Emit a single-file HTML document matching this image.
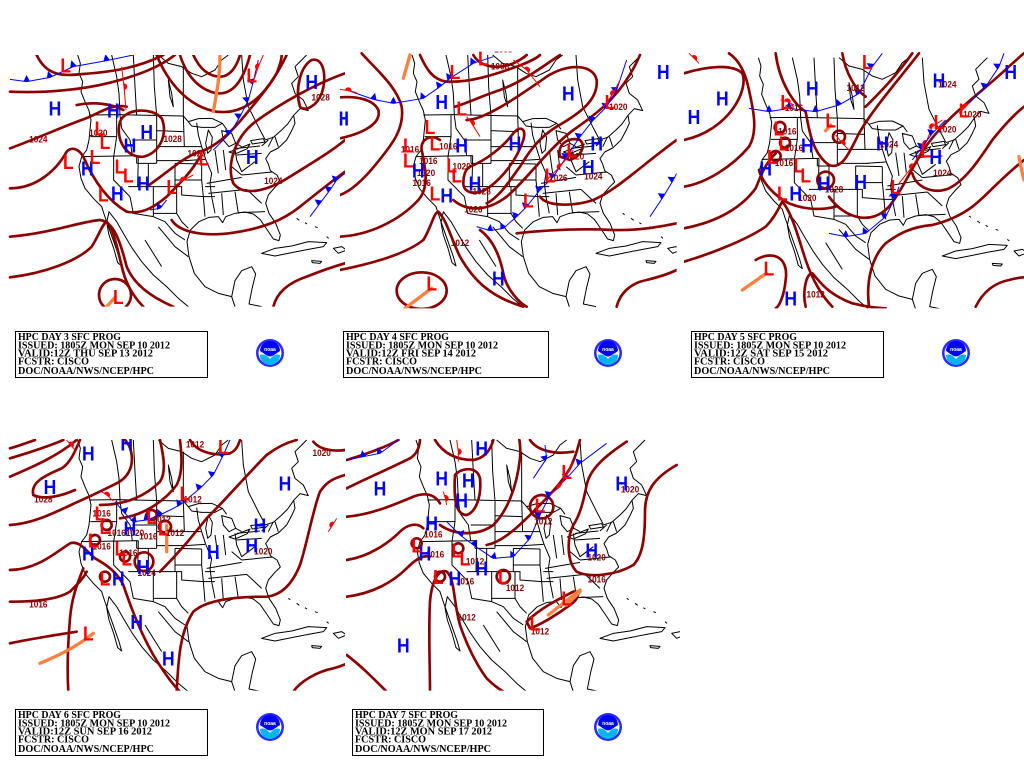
<!DOCTYPE html>
<html><head><meta charset="utf-8">
<style>
html,body{margin:0;padding:0;background:#fff;}
svg{display:block;}
.iso{fill:none;stroke:#8b0000;stroke-width:8;stroke-linejoin:round;stroke-linecap:round;}
.base{fill:none;stroke:#000;stroke-width:3;stroke-linejoin:round;}
.cf{fill:none;stroke:#0000ff;stroke-width:3;marker-mid:url(#tri);}
.wf{fill:none;stroke:#ff0000;stroke-width:3;marker-mid:url(#semi);}
.tr{fill:none;stroke:#ff8040;stroke-width:10;stroke-linecap:round;}
.H{font-family:"Liberation Sans",sans-serif;font-weight:bold;font-size:62px;fill:#0000ff;text-anchor:middle;}
.L{font-family:"Liberation Sans",sans-serif;font-weight:bold;font-size:62px;fill:#ff0000;text-anchor:middle;}
.lb{font-family:"Liberation Sans",sans-serif;font-weight:bold;font-size:27px;fill:#8b0000;text-anchor:middle;}
.bx{font-family:"Liberation Serif",serif;font-weight:bold;font-size:10.5px;fill:#000;}
</style></head>
<body>
<svg width="1024" height="768" viewBox="0 0 1024 768" xmlns="http://www.w3.org/2000/svg">
<defs>
<marker id="tri" viewBox="0 0 10 10" refX="5" refY="10" markerWidth="20" markerHeight="20" markerUnits="userSpaceOnUse" orient="auto"><path d="M0,10 L5,0 L10,10Z" fill="#0000ff"/></marker>
<marker id="semi" viewBox="0 0 10 10" refX="5" refY="10" markerWidth="20" markerHeight="20" markerUnits="userSpaceOnUse" orient="auto"><path d="M0,10 A5,5 0 0 1 10,10Z" fill="#ff0000"/></marker>
<clipPath id="c1"><rect x="25" y="45" width="1010" height="755"/></clipPath>
<clipPath id="c2"><rect x="0" y="35" width="1010" height="770"/></clipPath>
<clipPath id="c3"><rect x="15" y="35" width="1020" height="770"/></clipPath>
<clipPath id="c4"><rect x="25" y="42" width="1010" height="755"/></clipPath>
<clipPath id="c5"><rect x="18" y="42" width="1002" height="755"/></clipPath>
<g id="base">
<path class="base" d="M228,45 L236,70 L232,100 L243,125 L238,155 L250,185 L262,212 L268,240 L265,270 L262,300 L255,330 L240,350 L232,380 L238,415 L250,445 L275,475 L300,500 L308,525 L322,565 L338,610 L352,650 L360,678 L348,668 L336,625 L322,585 L315,548 L322,515 L345,545 L368,585 L392,625 L420,665 L455,705 L495,740 L530,775 L560,800"/>
<path class="base" d="M700,800 L690,770 L650,760 L610,740 L578,700 L562,650 L556,605 L566,570 L592,545 L622,532 L650,530 L663,548 L672,530 L700,520 L730,516 L755,522 L775,538 L795,567 L815,597 L832,602 L836,585 L822,550 L802,520 L792,490 L800,465 L820,442 L836,426 L826,405 L806,392 L800,372 L792,356 L806,336 L830,324 L855,300 L870,272 L880,250 L876,226 L895,206 L920,212 L905,180 L880,160 L870,130 L890,110 L880,80 L900,60 L915,45"/>
<path class="base" d="M690,770 L700,722 L720,692 L750,680 L762,702 L752,742 L742,792 L780,800"/>
<path class="base" d="M780,640 L820,625 L870,618 L920,605 L975,608 L965,620 L920,628 L870,638 L820,648 Z M930,662 L960,664 L955,670 L932,668 Z M995,625 L1020,620 L1035,630 L1010,640 Z M860,520 l6,4 M885,535 l8,6 M910,548 l6,4 M940,560 l8,3 M975,590 l6,5"/>
<path class="base" d="M560,245 L590,236 L630,235 L662,250 L640,262 L600,262 L570,258 Z M620,270 L632,292 L628,330 L618,340 L612,310 Z M660,272 L690,280 L702,310 L682,320 L665,300 Z M682,336 L720,322 L745,312 L737,326 L700,342 Z M747,302 L785,296 L790,306 L752,312 Z M500,120 L510,160 L515,200 L505,170 Z"/>
<path class="base" d="M470,45 L500,70 L540,80 L570,100 L600,110 L640,90 L660,60 L680,45"/>
<path class="base" d="M262,225 L350,224 L450,226 L545,228 L560,245 M662,250 L675,268 M702,310 L720,320 M790,300 L815,292 L840,270 L858,252 L876,226 M330,45 L345,110 L352,160 L355,225 M395,45 L400,140 L405,226 M455,45 L458,140 L465,228 M545,80 L545,130 L545,228 M720,45 L725,120 L740,200 L770,260 L790,298"/>
<path class="base" d="M266,290 L345,290 M345,226 L345,290 L336,350 M240,350 L410,347 M355,226 L360,265 L385,300 L392,347 M392,300 L465,300 M465,228 L465,370 M405,370 L465,370 M405,347 L405,370 M465,272 L545,275 M465,320 L548,320 M545,228 L548,320 M440,370 L440,440 L520,440 L520,370 M465,362 L560,362 M520,370 L600,372 M520,420 L600,420 M600,372 L600,420 M520,440 L540,440 L540,465 L605,470 L600,420 M336,350 L336,420 L385,470 M410,347 L408,440 M380,440 L440,440 M385,470 L395,520 L455,530 L455,440 M455,520 L525,520 L525,440 M525,520 L540,545 L560,565 M455,530 L490,545 L520,580 L550,600 M548,320 L600,320 M585,248 L590,285 L600,320 M550,362 L610,358 M600,320 L612,358 L630,400 L625,430 L630,470 L640,520 M640,330 L650,400 M665,330 L672,390 M700,325 L705,360 M705,345 L780,340 M705,325 L775,318 M615,430 L720,412 M620,460 L735,448 M720,405 L812,396 M690,380 L720,405 M705,360 L720,395 L760,365 M660,460 L665,525 M700,455 L710,520 M735,448 L780,490 M710,518 L790,515 M600,470 L640,470 M605,470 L610,530 M780,318 L800,300 M800,320 L815,290 M820,290 L830,320 M470,560 L520,620 L560,650 M430,600 L480,680 M610,440 L640,440"/>
</g>
</defs>
<rect width="1024" height="768" fill="#fff"/>

<!-- PANEL 1 -->
<g transform="translate(0,40) scale(0.33333)">
<g clip-path="url(#c1)">
<use href="#base" transform="translate(5,0)"/>
<path class="iso" d="M110,45 C140,110 190,108 250,102 C330,96 410,85 490,45"/>
<path class="iso" d="M30,155 C140,160 250,148 330,128 C420,105 480,80 525,45"/>
<path class="iso" d="M30,325 C120,292 200,255 250,238 C290,225 330,190 380,200"/>
<path class="iso" d="M360,245 C375,205 455,200 485,235 C505,280 480,340 430,350 C380,355 345,300 360,245Z"/>
<path class="iso" d="M30,445 C110,445 170,390 200,335 C215,320 235,325 250,350 C280,420 320,480 380,515 C430,525 470,495 500,470 C540,430 575,395 600,350"/>
<path class="iso" d="M30,590 C150,580 240,545 300,540 C340,545 360,600 380,680 C400,730 450,770 520,800"/>
<path class="iso" d="M30,712 C130,700 230,665 275,620 C295,590 305,555 320,545 C340,565 352,625 368,690 C382,745 410,780 430,800"/>
<circle class="iso" cx="345" cy="765" r="48"/>
<path class="iso" d="M1035,100 C950,130 840,190 760,250 C700,300 680,380 700,430 C730,470 800,455 870,410 C950,360 1000,330 1035,300"/>
<path class="iso" d="M515,540 C540,580 620,590 700,578 C790,565 850,540 900,500 C950,460 1000,420 1035,395"/>
<path class="iso" d="M440,440 C500,400 550,350 600,335 C650,320 700,270 740,220 C790,160 830,110 860,45"/>
<path class="iso" d="M540,45 C560,110 600,150 650,160 C700,165 730,120 750,45"/>
<path class="iso" d="M580,45 C600,90 630,110 660,110 C690,110 710,80 720,45"/>
<path class="iso" d="M470,45 C500,120 560,200 650,215 C730,225 790,170 830,100 C840,75 845,55 845,45"/>
<path class="iso" d="M900,200 C885,150 900,80 935,60 C975,50 980,120 965,160 C950,200 915,215 900,200Z"/>
<path class="iso" d="M820,800 C830,760 860,730 920,710 C970,690 1000,680 1035,670"/>
<path class="iso" d="M230,195 C280,185 330,190 370,210"/>
<polyline class="cf" points="30,118 80,125 150,112 220,80 320,62 400,45"/>
<polyline class="wf" points="365,80 372,140 378,210"/>
<polyline class="cf" points="640,330 690,280 720,230 745,180 760,125 775,60"/>
<polyline class="wf" points="760,125 775,80 790,45"/>
<polyline class="cf" points="930,530 960,490 990,450 1010,420 1035,400"/>
<polyline class="cf" points="450,510 480,505 500,480"/>
<polyline class="wf" points="520,440 550,420 580,405"/>
<path class="tr" d="M640,215 C648,170 660,110 660,45"/>
<path class="tr" d="M320,800 L345,772"/>
<text class="lb" x="115" y="307" textLength="55" lengthAdjust="spacingAndGlyphs">1024</text>
<text class="lb" x="295" y="288" textLength="55" lengthAdjust="spacingAndGlyphs">1020</text>
<text class="lb" x="518" y="306" textLength="55" lengthAdjust="spacingAndGlyphs">1028</text>
<text class="lb" x="590" y="350" textLength="55" lengthAdjust="spacingAndGlyphs">1020</text>
<text class="lb" x="820" y="432" textLength="55" lengthAdjust="spacingAndGlyphs">1024</text>
<text class="lb" x="962" y="182" textLength="55" lengthAdjust="spacingAndGlyphs">1028</text>
<text class="H" x="165" y="227" textLength="38" lengthAdjust="spacingAndGlyphs">H</text>
<text class="H" x="340" y="232" textLength="38" lengthAdjust="spacingAndGlyphs">H</text>
<text class="H" x="440" y="297" textLength="38" lengthAdjust="spacingAndGlyphs">H</text>
<text class="H" x="390" y="337" textLength="38" lengthAdjust="spacingAndGlyphs">H</text>
<text class="H" x="262" y="407" textLength="38" lengthAdjust="spacingAndGlyphs">H</text>
<text class="H" x="430" y="452" textLength="38" lengthAdjust="spacingAndGlyphs">H</text>
<text class="H" x="352" y="482" textLength="38" lengthAdjust="spacingAndGlyphs">H</text>
<text class="H" x="757" y="372" textLength="38" lengthAdjust="spacingAndGlyphs">H</text>
<text class="H" x="935" y="147" textLength="38" lengthAdjust="spacingAndGlyphs">H</text>
<text class="H" x="1035" y="257" textLength="38" lengthAdjust="spacingAndGlyphs">H</text>
<text class="L" x="197" y="97" textLength="32" lengthAdjust="spacingAndGlyphs">L</text>
<text class="L" x="755" y="127" textLength="32" lengthAdjust="spacingAndGlyphs">L</text>
<text class="L" x="300" y="287" textLength="32" lengthAdjust="spacingAndGlyphs">L</text>
<text class="L" x="315" y="327" textLength="32" lengthAdjust="spacingAndGlyphs">L</text>
<text class="L" x="205" y="387" textLength="32" lengthAdjust="spacingAndGlyphs">L</text>
<text class="L" x="285" y="372" textLength="32" lengthAdjust="spacingAndGlyphs">L</text>
<text class="L" x="360" y="400" textLength="32" lengthAdjust="spacingAndGlyphs">L</text>
<text class="L" x="385" y="427" textLength="32" lengthAdjust="spacingAndGlyphs">L</text>
<text class="L" x="310" y="484" textLength="32" lengthAdjust="spacingAndGlyphs">L</text>
<text class="L" x="515" y="462" textLength="32" lengthAdjust="spacingAndGlyphs">L</text>
<text class="L" x="612" y="377" textLength="32" lengthAdjust="spacingAndGlyphs">L</text>
<text class="L" x="355" y="792" textLength="32" lengthAdjust="spacingAndGlyphs">L</text>
</g></g>

<!-- PANEL 2 -->
<g transform="translate(340,40) scale(0.33333)">
<g clip-path="url(#c2)">
<use href="#base" transform="translate(-12,0)"/>
<path class="iso" d="M0,172 C50,168 100,178 115,210 C125,250 70,280 0,295"/>
<path class="iso" d="M65,40 C110,90 170,140 185,200 C195,270 150,320 110,370 C70,420 30,455 0,465"/>
<path class="iso" d="M0,590 C90,585 180,540 235,480 C270,440 255,380 245,330 C240,300 270,280 300,300"/>
<path class="iso" d="M0,690 C100,670 200,640 250,600 C275,560 280,520 295,515 C320,540 335,600 360,650 C400,720 450,770 550,800"/>
<ellipse class="iso" cx="245" cy="752" rx="75" ry="55"/>
<path class="iso" d="M240,45 C260,90 280,120 320,125 C390,128 460,105 530,80 C570,65 590,55 600,45"/>
<path class="iso" d="M400,45 C420,80 470,90 520,70 C540,60 555,50 560,45"/>
<path class="iso" d="M380,240 C430,240 520,180 620,110 C680,70 760,70 770,120 C775,180 720,220 650,260 C600,290 570,330 540,380 C510,420 480,470 440,490"/>
<path class="iso" d="M345,200 C380,190 420,170 480,150 C560,120 620,70 660,45"/>
<path class="iso" d="M390,380 C440,360 490,320 520,280 C540,255 560,265 550,300 C530,360 490,410 450,440 C410,470 370,460 370,430 C370,400 380,385 390,380Z"/>
<path class="iso" d="M340,480 C380,515 440,515 500,470 C560,420 620,330 700,270 C780,215 850,160 900,45"/>
<path class="iso" d="M600,470 C620,500 700,500 760,480 C830,450 900,380 1010,300"/>
<path class="iso" d="M420,570 C460,600 480,650 490,700 C500,750 540,790 560,800"/>
<path class="iso" d="M530,580 C620,570 720,565 820,570 C900,572 960,560 1010,550"/>
<path class="iso" d="M830,800 C840,760 870,730 920,720 C960,710 990,700 1010,690"/>
<path class="iso" d="M660,350 C650,310 690,290 720,300 C740,320 720,350 690,360 Z"/>
<polyline class="cf" points="20,150 100,178 160,190 250,175 300,140 330,115 400,70 460,50"/>
<polyline class="wf" points="0,148 25,152 50,158"/>
<polyline class="wf" points="520,60 560,90 600,140"/>
<polyline class="wf" points="380,230 395,250 420,290"/>
<polyline class="cf" points="410,560 450,572 490,565 530,530 560,500 600,450 640,410 680,350 720,290 760,240 800,200 830,150 860,60"/>
<polyline class="wf" points="620,420 660,380 700,330"/>
<polyline class="wf" points="790,200 820,160 840,120"/>
<polyline class="cf" points="930,530 970,470 1000,420 1010,400"/>
<path class="tr" d="M190,115 L210,45"/>
<path class="tr" d="M195,805 L275,745"/>
<text class="lb" x="490" y="38" textLength="55" lengthAdjust="spacingAndGlyphs">1008</text>
<text class="lb" x="480" y="88" textLength="55" lengthAdjust="spacingAndGlyphs">1008</text>
<text class="lb" x="325" y="328" textLength="55" lengthAdjust="spacingAndGlyphs">1016</text>
<text class="lb" x="210" y="338" textLength="55" lengthAdjust="spacingAndGlyphs">1016</text>
<text class="lb" x="265" y="372" textLength="55" lengthAdjust="spacingAndGlyphs">1016</text>
<text class="lb" x="258" y="408" textLength="55" lengthAdjust="spacingAndGlyphs">1020</text>
<text class="lb" x="245" y="438" textLength="55" lengthAdjust="spacingAndGlyphs">1016</text>
<text class="lb" x="365" y="388" textLength="55" lengthAdjust="spacingAndGlyphs">1020</text>
<text class="lb" x="425" y="463" textLength="55" lengthAdjust="spacingAndGlyphs">1028</text>
<text class="lb" x="400" y="518" textLength="55" lengthAdjust="spacingAndGlyphs">1026</text>
<text class="lb" x="360" y="618" textLength="55" lengthAdjust="spacingAndGlyphs">1012</text>
<text class="lb" x="705" y="358" textLength="55" lengthAdjust="spacingAndGlyphs">1020</text>
<text class="lb" x="655" y="423" textLength="55" lengthAdjust="spacingAndGlyphs">1026</text>
<text class="lb" x="760" y="418" textLength="55" lengthAdjust="spacingAndGlyphs">1024</text>
<text class="lb" x="835" y="210" textLength="55" lengthAdjust="spacingAndGlyphs">1020</text>
<text class="H" x="305" y="207" textLength="38" lengthAdjust="spacingAndGlyphs">H</text>
<text class="H" x="8" y="257" textLength="38" lengthAdjust="spacingAndGlyphs">H</text>
<text class="H" x="365" y="337" textLength="38" lengthAdjust="spacingAndGlyphs">H</text>
<text class="H" x="525" y="332" textLength="38" lengthAdjust="spacingAndGlyphs">H</text>
<text class="H" x="235" y="412" textLength="38" lengthAdjust="spacingAndGlyphs">H</text>
<text class="H" x="405" y="452" textLength="38" lengthAdjust="spacingAndGlyphs">H</text>
<text class="H" x="320" y="487" textLength="38" lengthAdjust="spacingAndGlyphs">H</text>
<text class="H" x="685" y="182" textLength="38" lengthAdjust="spacingAndGlyphs">H</text>
<text class="H" x="970" y="117" textLength="38" lengthAdjust="spacingAndGlyphs">H</text>
<text class="H" x="770" y="332" textLength="38" lengthAdjust="spacingAndGlyphs">H</text>
<text class="H" x="745" y="402" textLength="38" lengthAdjust="spacingAndGlyphs">H</text>
<text class="H" x="475" y="737" textLength="38" lengthAdjust="spacingAndGlyphs">H</text>
<text class="L" x="430" y="77" textLength="32" lengthAdjust="spacingAndGlyphs">L</text>
<text class="L" x="345" y="117" textLength="32" lengthAdjust="spacingAndGlyphs">L</text>
<text class="L" x="365" y="227" textLength="32" lengthAdjust="spacingAndGlyphs">L</text>
<text class="L" x="270" y="282" textLength="32" lengthAdjust="spacingAndGlyphs">L</text>
<text class="L" x="285" y="332" textLength="32" lengthAdjust="spacingAndGlyphs">L</text>
<text class="L" x="205" y="337" textLength="32" lengthAdjust="spacingAndGlyphs">L</text>
<text class="L" x="205" y="382" textLength="32" lengthAdjust="spacingAndGlyphs">L</text>
<text class="L" x="335" y="397" textLength="32" lengthAdjust="spacingAndGlyphs">L</text>
<text class="L" x="350" y="427" textLength="32" lengthAdjust="spacingAndGlyphs">L</text>
<text class="L" x="285" y="482" textLength="32" lengthAdjust="spacingAndGlyphs">L</text>
<text class="L" x="565" y="502" textLength="32" lengthAdjust="spacingAndGlyphs">L</text>
<text class="L" x="630" y="427" textLength="32" lengthAdjust="spacingAndGlyphs">L</text>
<text class="L" x="695" y="352" textLength="32" lengthAdjust="spacingAndGlyphs">L</text>
<text class="L" x="810" y="207" textLength="32" lengthAdjust="spacingAndGlyphs">L</text>
<text class="L" x="275" y="752" textLength="32" lengthAdjust="spacingAndGlyphs">L</text>
</g></g>

<!-- PANEL 3 -->
<g transform="translate(679,40) scale(0.33333)">
<g clip-path="url(#c3)">
<use href="#base" transform="translate(10,8)"/>
<path class="iso" d="M15,100 C80,80 160,70 190,100 C210,150 150,270 15,300"/>
<path class="iso" d="M15,440 C80,430 160,380 210,320 C240,270 220,200 210,150 C200,100 180,60 150,40"/>
<path class="iso" d="M15,565 C120,545 190,500 230,445 C245,410 255,375 290,340"/>
<path class="iso" d="M15,665 C100,640 200,600 260,560 C290,530 300,500 310,485 C340,520 360,600 380,660 C400,720 430,770 460,800"/>
<path class="iso" d="M230,660 C280,630 330,650 320,720 C315,770 300,800 290,805"/>
<path class="iso" d="M380,800 C370,760 380,700 400,700 C420,720 440,760 520,790 C560,800 600,805 620,805"/>
<path class="iso" d="M570,800 C560,720 580,650 620,610 C660,580 700,560 760,555 C800,545 840,530 880,500 C920,470 960,420 1035,360"/>
<path class="iso" d="M890,800 C910,760 940,730 990,720 C1010,715 1030,712 1035,712"/>
<path class="iso" d="M380,215 C390,270 400,340 450,375 C490,390 510,340 540,280 C580,210 650,130 720,40"/>
<circle class="iso" cx="480" cy="290" r="18"/>
<path class="iso" d="M290,40 C300,120 340,190 380,215"/>
<path class="iso" d="M490,40 C500,100 530,150 560,170"/>
<path class="iso" d="M450,470 C500,540 580,555 630,500 C670,450 700,380 740,320 C790,250 850,200 910,150 C970,100 1010,60 1035,40"/>
<path class="iso" d="M700,400 C710,440 760,465 810,445 C860,420 900,360 940,300 C980,250 1010,220 1035,200"/>
<path class="iso" d="M560,200 C600,160 650,110 700,40"/>
<path class="iso" d="M240,390 C250,430 290,470 330,490 C380,510 430,510 470,500"/>
<circle class="iso" cx="440" cy="420" r="25"/>
<circle class="iso" cx="303" cy="262" r="16"/>
<circle class="iso" cx="318" cy="308" r="15"/>
<circle class="iso" cx="290" cy="348" r="15"/>
<polyline class="cf" points="210,205 270,215 330,205 410,215 480,195 540,160 580,80 610,40"/>
<polyline class="wf" points="305,180 325,185 345,195"/>
<polyline class="wf" points="30,40 45,55 60,70"/>
<polyline class="cf" points="450,580 500,590 560,580 620,530 650,470 660,440"/>
<polyline class="wf" points="660,430 700,380 740,310 760,260 790,240"/>
<polyline class="cf" points="700,360 730,320 760,280 800,240"/>
<polyline class="cf" points="870,190 920,140 960,80 975,40"/>
<polyline class="wf" points="840,220 860,200 870,190"/>
<polyline class="wf" points="470,285 490,310 510,330"/>
<path class="tr" d="M1020,350 C1025,380 1030,400 1035,420"/>
<path class="tr" d="M190,750 C220,730 240,715 262,700"/>
<path class="tr" d="M440,272 L455,255"/>
<text class="lb" x="530" y="153" textLength="55" lengthAdjust="spacingAndGlyphs">1012</text>
<text class="lb" x="345" y="213" textLength="55" lengthAdjust="spacingAndGlyphs">1016</text>
<text class="lb" x="325" y="283" textLength="55" lengthAdjust="spacingAndGlyphs">1016</text>
<text class="lb" x="345" y="333" textLength="55" lengthAdjust="spacingAndGlyphs">1016</text>
<text class="lb" x="315" y="378" textLength="55" lengthAdjust="spacingAndGlyphs">1016</text>
<text class="lb" x="385" y="483" textLength="55" lengthAdjust="spacingAndGlyphs">1020</text>
<text class="lb" x="465" y="458" textLength="55" lengthAdjust="spacingAndGlyphs">1028</text>
<text class="lb" x="630" y="323" textLength="55" lengthAdjust="spacingAndGlyphs">1024</text>
<text class="lb" x="805" y="143" textLength="55" lengthAdjust="spacingAndGlyphs">1024</text>
<text class="lb" x="790" y="408" textLength="55" lengthAdjust="spacingAndGlyphs">1024</text>
<text class="lb" x="805" y="278" textLength="55" lengthAdjust="spacingAndGlyphs">1020</text>
<text class="lb" x="880" y="233" textLength="55" lengthAdjust="spacingAndGlyphs">1020</text>
<text class="lb" x="410" y="773" textLength="55" lengthAdjust="spacingAndGlyphs">1012</text>
<text class="H" x="45" y="252" textLength="38" lengthAdjust="spacingAndGlyphs">H</text>
<text class="H" x="130" y="197" textLength="38" lengthAdjust="spacingAndGlyphs">H</text>
<text class="H" x="400" y="167" textLength="38" lengthAdjust="spacingAndGlyphs">H</text>
<text class="H" x="385" y="337" textLength="38" lengthAdjust="spacingAndGlyphs">H</text>
<text class="H" x="260" y="407" textLength="38" lengthAdjust="spacingAndGlyphs">H</text>
<text class="H" x="610" y="332" textLength="38" lengthAdjust="spacingAndGlyphs">H</text>
<text class="H" x="435" y="452" textLength="38" lengthAdjust="spacingAndGlyphs">H</text>
<text class="H" x="545" y="447" textLength="38" lengthAdjust="spacingAndGlyphs">H</text>
<text class="H" x="350" y="482" textLength="38" lengthAdjust="spacingAndGlyphs">H</text>
<text class="H" x="780" y="142" textLength="38" lengthAdjust="spacingAndGlyphs">H</text>
<text class="H" x="770" y="372" textLength="38" lengthAdjust="spacingAndGlyphs">H</text>
<text class="H" x="995" y="117" textLength="38" lengthAdjust="spacingAndGlyphs">H</text>
<text class="H" x="335" y="797" textLength="38" lengthAdjust="spacingAndGlyphs">H</text>
<text class="L" x="565" y="87" textLength="32" lengthAdjust="spacingAndGlyphs">L</text>
<text class="L" x="320" y="207" textLength="32" lengthAdjust="spacingAndGlyphs">L</text>
<text class="L" x="455" y="262" textLength="32" lengthAdjust="spacingAndGlyphs">L</text>
<text class="L" x="300" y="287" textLength="32" lengthAdjust="spacingAndGlyphs">L</text>
<text class="L" x="315" y="332" textLength="32" lengthAdjust="spacingAndGlyphs">L</text>
<text class="L" x="280" y="372" textLength="32" lengthAdjust="spacingAndGlyphs">L</text>
<text class="L" x="360" y="397" textLength="32" lengthAdjust="spacingAndGlyphs">L</text>
<text class="L" x="380" y="427" textLength="32" lengthAdjust="spacingAndGlyphs">L</text>
<text class="L" x="310" y="482" textLength="32" lengthAdjust="spacingAndGlyphs">L</text>
<text class="L" x="740" y="352" textLength="32" lengthAdjust="spacingAndGlyphs">L</text>
<text class="L" x="650" y="462" textLength="32" lengthAdjust="spacingAndGlyphs">L</text>
<text class="L" x="780" y="267" textLength="32" lengthAdjust="spacingAndGlyphs">L</text>
<text class="L" x="855" y="232" textLength="32" lengthAdjust="spacingAndGlyphs">L</text>
<text class="L" x="270" y="707" textLength="32" lengthAdjust="spacingAndGlyphs">L</text>
</g></g>

<!-- PANEL 4 -->
<g transform="translate(0,425) scale(0.33333)">
<g clip-path="url(#c4)">
<use href="#base" transform="translate(5,0)"/>
<path class="iso" d="M30,70 C60,62 85,52 105,45"/>
<path class="iso" d="M30,100 C90,82 150,62 190,45"/>
<path class="iso" d="M30,155 C100,125 170,95 230,45"/>
<path class="iso" d="M100,210 C90,170 140,150 185,130 C210,115 225,80 240,45"/>
<path class="iso" d="M100,210 C130,225 180,215 225,195"/>
<path class="iso" d="M30,300 C100,295 160,265 230,232 C280,210 320,190 350,175 C380,160 400,130 395,90 C392,65 380,50 375,45"/>
<path class="iso" d="M30,435 C110,435 170,380 210,355 C240,345 260,380 285,400 C320,420 350,440 370,480 C390,540 420,620 460,690 C490,740 520,780 540,800"/>
<path class="iso" d="M30,530 C100,530 170,525 210,500 C240,470 250,460 260,440"/>
<path class="iso" d="M205,800 C200,720 205,640 210,580 C215,520 230,480 250,430"/>
<path class="iso" d="M30,655 C100,640 170,630 230,620"/>
<circle class="iso" cx="432" cy="410" r="28"/>
<path class="iso" d="M300,240 C380,240 440,210 480,170 C500,140 490,90 480,45"/>
<path class="iso" d="M360,280 C440,270 500,220 530,180 C550,140 545,90 540,45"/>
<path class="iso" d="M570,45 C590,80 640,95 690,85 C710,75 715,60 720,45"/>
<path class="iso" d="M480,440 C540,380 580,330 620,280 C680,220 740,150 800,90 C840,60 870,50 890,45"/>
<path class="iso" d="M530,800 C535,700 540,620 580,560 C620,525 700,515 800,515 C850,510 880,470 900,420 C920,360 940,250 960,200 C980,170 1000,160 1035,150"/>
<path class="iso" d="M880,800 C900,770 950,740 1000,730 C1020,725 1030,720 1035,718"/>
<path class="iso" d="M940,50 C960,75 1000,80 1035,75"/>
<circle class="iso" cx="320" cy="300" r="15"/>
<circle class="iso" cx="285" cy="345" r="15"/>
<circle class="iso" cx="495" cy="305" r="18"/>
<circle class="iso" cx="375" cy="395" r="15"/>
<circle class="iso" cx="315" cy="455" r="15"/>
<circle class="iso" cx="455" cy="270" r="15"/>
<polyline class="cf" points="345,230 370,260 400,290 440,285 480,270 540,240 600,190 640,150 670,90 690,45"/>
<polyline class="wf" points="305,200 320,210 340,228"/>
<polyline class="wf" points="200,45 212,60 225,75"/>
<polyline class="wf" points="985,320 998,300 1010,280"/>
<path class="tr" d="M500,300 L500,380"/>
<path class="tr" d="M120,715 C180,690 230,665 280,625"/>
<text class="lb" x="130" y="233" textLength="55" lengthAdjust="spacingAndGlyphs">1028</text>
<text class="lb" x="305" y="275" textLength="55" lengthAdjust="spacingAndGlyphs">1016</text>
<text class="lb" x="350" y="333" textLength="55" lengthAdjust="spacingAndGlyphs">1016</text>
<text class="lb" x="405" y="333" textLength="55" lengthAdjust="spacingAndGlyphs">1020</text>
<text class="lb" x="445" y="343" textLength="55" lengthAdjust="spacingAndGlyphs">1016</text>
<text class="lb" x="485" y="293" textLength="55" lengthAdjust="spacingAndGlyphs">1012</text>
<text class="lb" x="525" y="333" textLength="55" lengthAdjust="spacingAndGlyphs">1012</text>
<text class="lb" x="305" y="373" textLength="55" lengthAdjust="spacingAndGlyphs">1016</text>
<text class="lb" x="385" y="393" textLength="55" lengthAdjust="spacingAndGlyphs">1016</text>
<text class="lb" x="578" y="233" textLength="55" lengthAdjust="spacingAndGlyphs">1012</text>
<text class="lb" x="440" y="453" textLength="55" lengthAdjust="spacingAndGlyphs">1024</text>
<text class="lb" x="585" y="68" textLength="55" lengthAdjust="spacingAndGlyphs">1012</text>
<text class="lb" x="965" y="93" textLength="55" lengthAdjust="spacingAndGlyphs">1020</text>
<text class="lb" x="790" y="388" textLength="55" lengthAdjust="spacingAndGlyphs">1020</text>
<text class="lb" x="115" y="548" textLength="55" lengthAdjust="spacingAndGlyphs">1016</text>
<text class="H" x="150" y="207" textLength="38" lengthAdjust="spacingAndGlyphs">H</text>
<text class="H" x="265" y="107" textLength="38" lengthAdjust="spacingAndGlyphs">H</text>
<text class="H" x="380" y="77" textLength="38" lengthAdjust="spacingAndGlyphs">H</text>
<text class="H" x="390" y="332" textLength="38" lengthAdjust="spacingAndGlyphs">H</text>
<text class="H" x="265" y="407" textLength="38" lengthAdjust="spacingAndGlyphs">H</text>
<text class="H" x="430" y="447" textLength="38" lengthAdjust="spacingAndGlyphs">H</text>
<text class="H" x="355" y="482" textLength="38" lengthAdjust="spacingAndGlyphs">H</text>
<text class="H" x="640" y="402" textLength="38" lengthAdjust="spacingAndGlyphs">H</text>
<text class="H" x="780" y="322" textLength="38" lengthAdjust="spacingAndGlyphs">H</text>
<text class="H" x="755" y="382" textLength="38" lengthAdjust="spacingAndGlyphs">H</text>
<text class="H" x="855" y="197" textLength="38" lengthAdjust="spacingAndGlyphs">H</text>
<text class="H" x="410" y="612" textLength="38" lengthAdjust="spacingAndGlyphs">H</text>
<text class="H" x="505" y="722" textLength="38" lengthAdjust="spacingAndGlyphs">H</text>
<text class="L" x="670" y="87" textLength="32" lengthAdjust="spacingAndGlyphs">L</text>
<text class="L" x="555" y="227" textLength="32" lengthAdjust="spacingAndGlyphs">L</text>
<text class="L" x="300" y="287" textLength="32" lengthAdjust="spacingAndGlyphs">L</text>
<text class="L" x="315" y="327" textLength="32" lengthAdjust="spacingAndGlyphs">L</text>
<text class="L" x="455" y="297" textLength="32" lengthAdjust="spacingAndGlyphs">L</text>
<text class="L" x="490" y="332" textLength="32" lengthAdjust="spacingAndGlyphs">L</text>
<text class="L" x="280" y="367" textLength="32" lengthAdjust="spacingAndGlyphs">L</text>
<text class="L" x="360" y="392" textLength="32" lengthAdjust="spacingAndGlyphs">L</text>
<text class="L" x="380" y="422" textLength="32" lengthAdjust="spacingAndGlyphs">L</text>
<text class="L" x="315" y="482" textLength="32" lengthAdjust="spacingAndGlyphs">L</text>
<text class="L" x="265" y="647" textLength="32" lengthAdjust="spacingAndGlyphs">L</text>
</g></g>

<!-- PANEL 5 -->
<g transform="translate(340,425) scale(0.33333)">
<g clip-path="url(#c5)">
<use href="#base"/>
<path class="iso" d="M20,105 C70,90 130,70 175,45"/>
<path class="iso" d="M20,190 C80,160 150,130 210,100 C230,88 238,70 240,45"/>
<path class="iso" d="M20,275 C90,270 160,240 220,215 C260,200 285,210 300,235"/>
<path class="iso" d="M20,405 C90,395 150,350 180,320 C200,300 230,290 250,310"/>
<path class="iso" d="M20,515 C100,505 160,470 200,430 C230,400 250,390 270,395"/>
<path class="iso" d="M20,690 C60,720 100,760 140,800"/>
<path class="iso" d="M270,800 C270,720 265,620 270,530 C275,470 295,430 320,440 C345,460 340,530 360,600 C380,660 410,720 440,760 C470,790 490,800 500,805"/>
<path class="iso" d="M285,45 C310,85 350,105 400,105 C430,100 450,80 460,45"/>
<path class="iso" d="M345,150 C360,130 410,120 420,160 C425,210 410,260 380,270 C350,270 340,230 345,150Z"/>
<path class="iso" d="M300,300 C350,335 420,330 460,300 C500,260 530,190 540,100 C542,70 540,55 538,45"/>
<path class="iso" d="M440,360 C490,350 540,300 580,260 C620,220 660,180 690,130 C710,90 715,60 720,45"/>
<circle class="iso" cx="605" cy="245" r="35"/>
<path class="iso" d="M570,45 C590,75 640,90 700,80"/>
<path class="iso" d="M860,50 C800,90 750,130 740,180 C730,230 720,270 700,300 C680,340 680,410 710,440 C750,460 830,450 880,420 C910,390 915,330 915,260 C915,200 940,160 1010,120"/>
<path class="iso" d="M560,590 C600,550 660,520 700,500 C720,495 720,520 690,540 C650,570 600,600 570,610Z"/>
<circle class="iso" cx="490" cy="455" r="20"/>
<circle class="iso" cx="230" cy="355" r="15"/>
<circle class="iso" cx="300" cy="455" r="15"/>
<circle class="iso" cx="355" cy="370" r="15"/>
<polyline class="cf" points="20,105 70,95 120,85 175,45"/>
<polyline class="wf" points="350,45 355,80 355,110"/>
<polyline class="wf" points="310,200 316,220 320,240"/>
<polyline class="cf" points="320,290 360,330 400,360 460,400 520,395 570,340 600,270 630,210 680,160 720,115 800,55"/>
<polyline class="wf" points="630,210 660,185 700,110"/>
<polyline class="cf" points="580,160 620,100 615,60"/>
<path class="tr" d="M625,570 L720,495"/>
<path class="tr" d="M680,540 L720,500"/>
<text class="lb" x="280" y="338" textLength="55" lengthAdjust="spacingAndGlyphs">1016</text>
<text class="lb" x="285" y="398" textLength="55" lengthAdjust="spacingAndGlyphs">1016</text>
<text class="lb" x="405" y="418" textLength="55" lengthAdjust="spacingAndGlyphs">1012</text>
<text class="lb" x="375" y="478" textLength="55" lengthAdjust="spacingAndGlyphs">1016</text>
<text class="lb" x="525" y="498" textLength="55" lengthAdjust="spacingAndGlyphs">1012</text>
<text class="lb" x="610" y="298" textLength="55" lengthAdjust="spacingAndGlyphs">1012</text>
<text class="lb" x="870" y="203" textLength="55" lengthAdjust="spacingAndGlyphs">1020</text>
<text class="lb" x="770" y="406" textLength="55" lengthAdjust="spacingAndGlyphs">1020</text>
<text class="lb" x="770" y="472" textLength="55" lengthAdjust="spacingAndGlyphs">1016</text>
<text class="lb" x="380" y="586" textLength="55" lengthAdjust="spacingAndGlyphs">1012</text>
<text class="lb" x="600" y="628" textLength="55" lengthAdjust="spacingAndGlyphs">1012</text>
<text class="H" x="425" y="92" textLength="38" lengthAdjust="spacingAndGlyphs">H</text>
<text class="H" x="305" y="182" textLength="38" lengthAdjust="spacingAndGlyphs">H</text>
<text class="H" x="385" y="187" textLength="38" lengthAdjust="spacingAndGlyphs">H</text>
<text class="H" x="365" y="247" textLength="38" lengthAdjust="spacingAndGlyphs">H</text>
<text class="H" x="120" y="212" textLength="38" lengthAdjust="spacingAndGlyphs">H</text>
<text class="H" x="275" y="317" textLength="38" lengthAdjust="spacingAndGlyphs">H</text>
<text class="H" x="255" y="407" textLength="38" lengthAdjust="spacingAndGlyphs">H</text>
<text class="H" x="345" y="482" textLength="38" lengthAdjust="spacingAndGlyphs">H</text>
<text class="H" x="425" y="452" textLength="38" lengthAdjust="spacingAndGlyphs">H</text>
<text class="H" x="755" y="397" textLength="38" lengthAdjust="spacingAndGlyphs">H</text>
<text class="H" x="845" y="197" textLength="38" lengthAdjust="spacingAndGlyphs">H</text>
<text class="H" x="190" y="682" textLength="38" lengthAdjust="spacingAndGlyphs">H</text>
<text class="L" x="680" y="162" textLength="32" lengthAdjust="spacingAndGlyphs">L</text>
<text class="L" x="600" y="262" textLength="32" lengthAdjust="spacingAndGlyphs">L</text>
<text class="L" x="230" y="382" textLength="32" lengthAdjust="spacingAndGlyphs">L</text>
<text class="L" x="350" y="397" textLength="32" lengthAdjust="spacingAndGlyphs">L</text>
<text class="L" x="375" y="422" textLength="32" lengthAdjust="spacingAndGlyphs">L</text>
<text class="L" x="295" y="477" textLength="32" lengthAdjust="spacingAndGlyphs">L</text>
<text class="L" x="490" y="477" textLength="32" lengthAdjust="spacingAndGlyphs">L</text>
<text class="L" x="680" y="542" textLength="32" lengthAdjust="spacingAndGlyphs">L</text>
<text class="L" x="585" y="617" textLength="32" lengthAdjust="spacingAndGlyphs">L</text>
</g></g>

<!-- INFO BOXES -->
<g>
<rect x="15.5" y="331.5" width="192" height="46" fill="none" stroke="#000" stroke-width="1"/>
<text class="bx" x="18" y="340" textLength="103" lengthAdjust="spacingAndGlyphs">HPC DAY 3 SFC PROG</text>
<text class="bx" x="18" y="348.5" textLength="152" lengthAdjust="spacingAndGlyphs">ISSUED: 1805Z MON SEP 10 2012</text>
<text class="bx" x="18" y="356.5" textLength="135" lengthAdjust="spacingAndGlyphs">VALID:12Z THU SEP 13 2012</text>
<text class="bx" x="18" y="364.5" textLength="71" lengthAdjust="spacingAndGlyphs">FCSTR: CISCO</text>
<text class="bx" x="18" y="374" textLength="136" lengthAdjust="spacingAndGlyphs">DOC/NOAA/NWS/NCEP/HPC</text>

<rect x="343.5" y="331.5" width="205" height="46" fill="none" stroke="#000" stroke-width="1"/>
<text class="bx" x="346" y="340" textLength="103" lengthAdjust="spacingAndGlyphs">HPC DAY 4 SFC PROG</text>
<text class="bx" x="346" y="348.5" textLength="152" lengthAdjust="spacingAndGlyphs">ISSUED: 1805Z MON SEP 10 2012</text>
<text class="bx" x="346" y="356.5" textLength="130" lengthAdjust="spacingAndGlyphs">VALID:12Z FRI SEP 14 2012</text>
<text class="bx" x="346" y="364.5" textLength="71" lengthAdjust="spacingAndGlyphs">FCSTR: CISCO</text>
<text class="bx" x="346" y="374" textLength="136" lengthAdjust="spacingAndGlyphs">DOC/NOAA/NWS/NCEP/HPC</text>

<rect x="691.5" y="331.5" width="192" height="46" fill="none" stroke="#000" stroke-width="1"/>
<text class="bx" x="694" y="340" textLength="103" lengthAdjust="spacingAndGlyphs">HPC DAY 5 SFC PROG</text>
<text class="bx" x="694" y="348.5" textLength="152" lengthAdjust="spacingAndGlyphs">ISSUED: 1805Z MON SEP 10 2012</text>
<text class="bx" x="694" y="356.5" textLength="134" lengthAdjust="spacingAndGlyphs">VALID:12Z SAT SEP 15 2012</text>
<text class="bx" x="694" y="364.5" textLength="71" lengthAdjust="spacingAndGlyphs">FCSTR: CISCO</text>
<text class="bx" x="694" y="374" textLength="136" lengthAdjust="spacingAndGlyphs">DOC/NOAA/NWS/NCEP/HPC</text>

<rect x="15.5" y="709.5" width="192" height="46" fill="none" stroke="#000" stroke-width="1"/>
<text class="bx" x="18" y="718" textLength="103" lengthAdjust="spacingAndGlyphs">HPC DAY 6 SFC PROG</text>
<text class="bx" x="18" y="726.5" textLength="152" lengthAdjust="spacingAndGlyphs">ISSUED: 1805Z MON SEP 10 2012</text>
<text class="bx" x="18" y="734.5" textLength="134" lengthAdjust="spacingAndGlyphs">VALID:12Z SUN SEP 16 2012</text>
<text class="bx" x="18" y="742.5" textLength="71" lengthAdjust="spacingAndGlyphs">FCSTR: CISCO</text>
<text class="bx" x="18" y="752" textLength="136" lengthAdjust="spacingAndGlyphs">DOC/NOAA/NWS/NCEP/HPC</text>

<rect x="352.5" y="709.5" width="191" height="46" fill="none" stroke="#000" stroke-width="1"/>
<text class="bx" x="355" y="718" textLength="103" lengthAdjust="spacingAndGlyphs">HPC DAY 7 SFC PROG</text>
<text class="bx" x="355" y="726.5" textLength="152" lengthAdjust="spacingAndGlyphs">ISSUED: 1805Z MON SEP 10 2012</text>
<text class="bx" x="355" y="734.5" textLength="137" lengthAdjust="spacingAndGlyphs">VALID:12Z MON SEP 17 2012</text>
<text class="bx" x="355" y="742.5" textLength="71" lengthAdjust="spacingAndGlyphs">FCSTR: CISCO</text>
<text class="bx" x="355" y="752" textLength="136" lengthAdjust="spacingAndGlyphs">DOC/NOAA/NWS/NCEP/HPC</text>
</g>

<!-- NOAA LOGOS -->
<g id="logo" transform="translate(270,353)">
<circle r="14" fill="#2a2aff"/>
<circle r="11.5" fill="#fff"/>
<path d="M-10,-2 A10,10 0 0 1 10,-2 L4,2 Q0,5 -4,2 Z" fill="#0000ff"/>
<path d="M-10,2 Q-5,0 0,6 Q5,0 10,2 A10,10 0 0 1 -10,2 Z" fill="#00b4f0"/>
<text x="0" y="-2" font-family="Liberation Sans, sans-serif" font-size="5" font-weight="bold" fill="#fff" text-anchor="middle">noaa</text>
</g>
<use href="#logo" x="338" y="0"/>
<use href="#logo" x="686" y="0"/>
<use href="#logo" x="0" y="374"/>
<use href="#logo" x="338" y="374"/>
</svg>
</body></html>
